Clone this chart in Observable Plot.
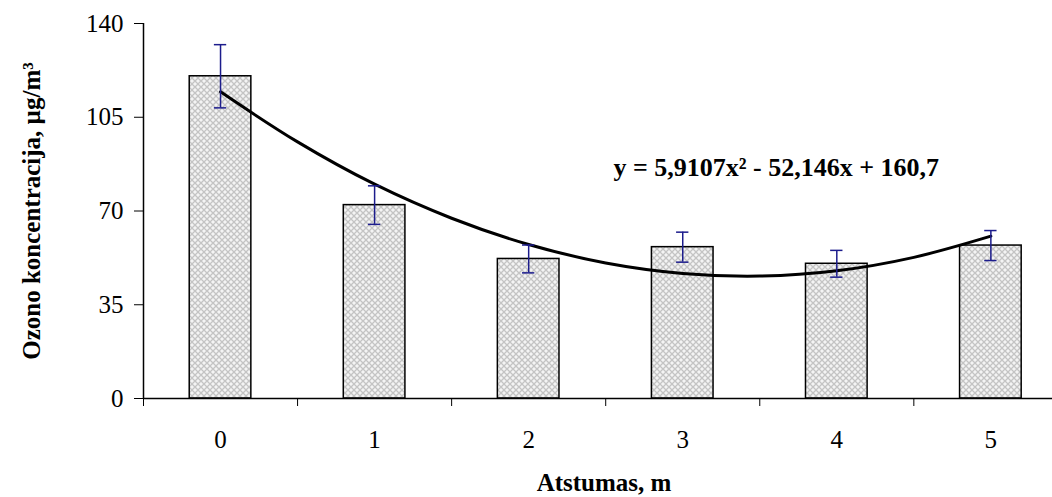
<!DOCTYPE html>
<html><head><meta charset="utf-8">
<script src="https://cdn.jsdelivr.net/npm/d3@7"></script>
<script src="https://cdn.jsdelivr.net/npm/@observablehq/plot@0.6"></script>
<style>html,body{margin:0;padding:0;background:#fff}</style>
</head><body><div id="chart"></div>
<script>
// Data
const distances = [0, 1, 2, 3, 4, 5];
const ozone = [120.3, 72.2, 52.1, 56.5, 50.3, 57.1];
const errors = [11.8, 7.2, 5.2, 5.6, 5.0, 5.6];
// Trend line points
const trendX = [0, 0.5, 1, 1.5, 2, 2.5, 3, 3.5, 4, 4.5, 5];
const trendY = [114.5, 95.8, 80.0, 67.3, 57.5, 50.6, 46.7, 45.7, 47.7, 52.7, 60.6];
const yTicks = [0, 35, 70, 105, 140];
const xTickLabels = ["0", "1", "2", "3", "4", "5"];
const xDividers = [-0.5, 0.5, 1.5, 2.5, 3.5, 4.5];
const equation = "y = 5,9107x² - 52,146x + 160,7";
const yTitle = "Ozono koncentracija, µg/m³";
const xTitle = "Atstumas, m";

const bars = distances.map((d, i) => ({x: d, label: xTickLabels[i], v: ozone[i], e: errors[i]}));
const trend = trendX.map((x, i) => ({x, y: trendY[i]}));
const serif = "'Liberation Serif', 'Times New Roman', serif";
const barHalf = 0.2, capHalf = 0.04;

const chart = Plot.plot({
  width: 1052,
  height: 497,
  marginLeft: 143,
  marginRight: 0,
  marginTop: 23,
  marginBottom: 99,
  style: {fontFamily: serif, background: "#fff", color: "#000"},
  x: {type: "linear", domain: [-0.5, 5.4], axis: null},
  y: {type: "linear", domain: [0, 140], axis: null},
  marks: [
    Plot.rectY(bars, {x1: d => d.x - barHalf, x2: d => d.x + barHalf, y1: 0, y2: "v",
      fill: "url(#grid)", stroke: "#000", strokeWidth: 1.5}),
    Plot.line(trend, {x: "x", y: "y", curve: "catmull-rom", stroke: "#000", strokeWidth: 3}),
    Plot.ruleX(bars, {x: "x", y1: d => d.v - d.e, y2: d => d.v + d.e, stroke: "#1c1c8c", strokeWidth: 1.5}),
    Plot.ruleY(bars, {y: d => d.v - d.e, x1: d => d.x - capHalf, x2: d => d.x + capHalf, stroke: "#1c1c8c", strokeWidth: 1.5}),
    Plot.ruleY(bars, {y: d => d.v + d.e, x1: d => d.x - capHalf, x2: d => d.x + capHalf, stroke: "#1c1c8c", strokeWidth: 1.5}),
    Plot.ruleY([0], {stroke: "#000", strokeWidth: 1.5}),
    Plot.ruleX([-0.5], {stroke: "#000", strokeWidth: 1.5}),
    Plot.axisY({ticks: yTicks, tickSize: 9, tickFormat: () => "", label: null}),
    Plot.text(yTicks, {y: d => d, frameAnchor: "left", dx: -20, textAnchor: "end", lineAnchor: "middle",
      text: d => String(d), fontSize: 25}),
    Plot.axisX({ticks: xDividers, tickSize: 8, tickFormat: () => "", label: null}),
    Plot.text(distances, {x: d => d, frameAnchor: "bottom", dy: 41, lineAnchor: "middle", textAnchor: "middle",
      text: (d, i) => xTickLabels[i], fontSize: 25}),
    Plot.text([equation], {x: () => 2.55, y: () => 83, text: d => d, textAnchor: "start", lineAnchor: "bottom",
      fontSize: 26, fontWeight: "bold"}),
    Plot.text([yTitle], {frameAnchor: "left", dx: -112, rotate: -90, textAnchor: "middle", lineAnchor: "middle",
      text: d => d, fontSize: 25, fontWeight: "bold"}),
    Plot.text([xTitle], {frameAnchor: "bottom", dx: 6, dy: 84, textAnchor: "middle", lineAnchor: "middle",
      text: d => d, fontSize: 25, fontWeight: "bold"})
  ]
});

const ns = "http://www.w3.org/2000/svg";
const defs = document.createElementNS(ns, "defs");
defs.innerHTML = `<pattern id="grid" width="6" height="6" patternUnits="userSpaceOnUse">
  <rect width="6" height="6" fill="#f4f4f4"/>
  <path d="M0,0L6,6M6,0L0,6" stroke="#c4c4c4" stroke-width="1.3"/>
</pattern>`;
chart.insertBefore(defs, chart.firstChild);
document.getElementById("chart").appendChild(chart);
</script>
</body></html>
